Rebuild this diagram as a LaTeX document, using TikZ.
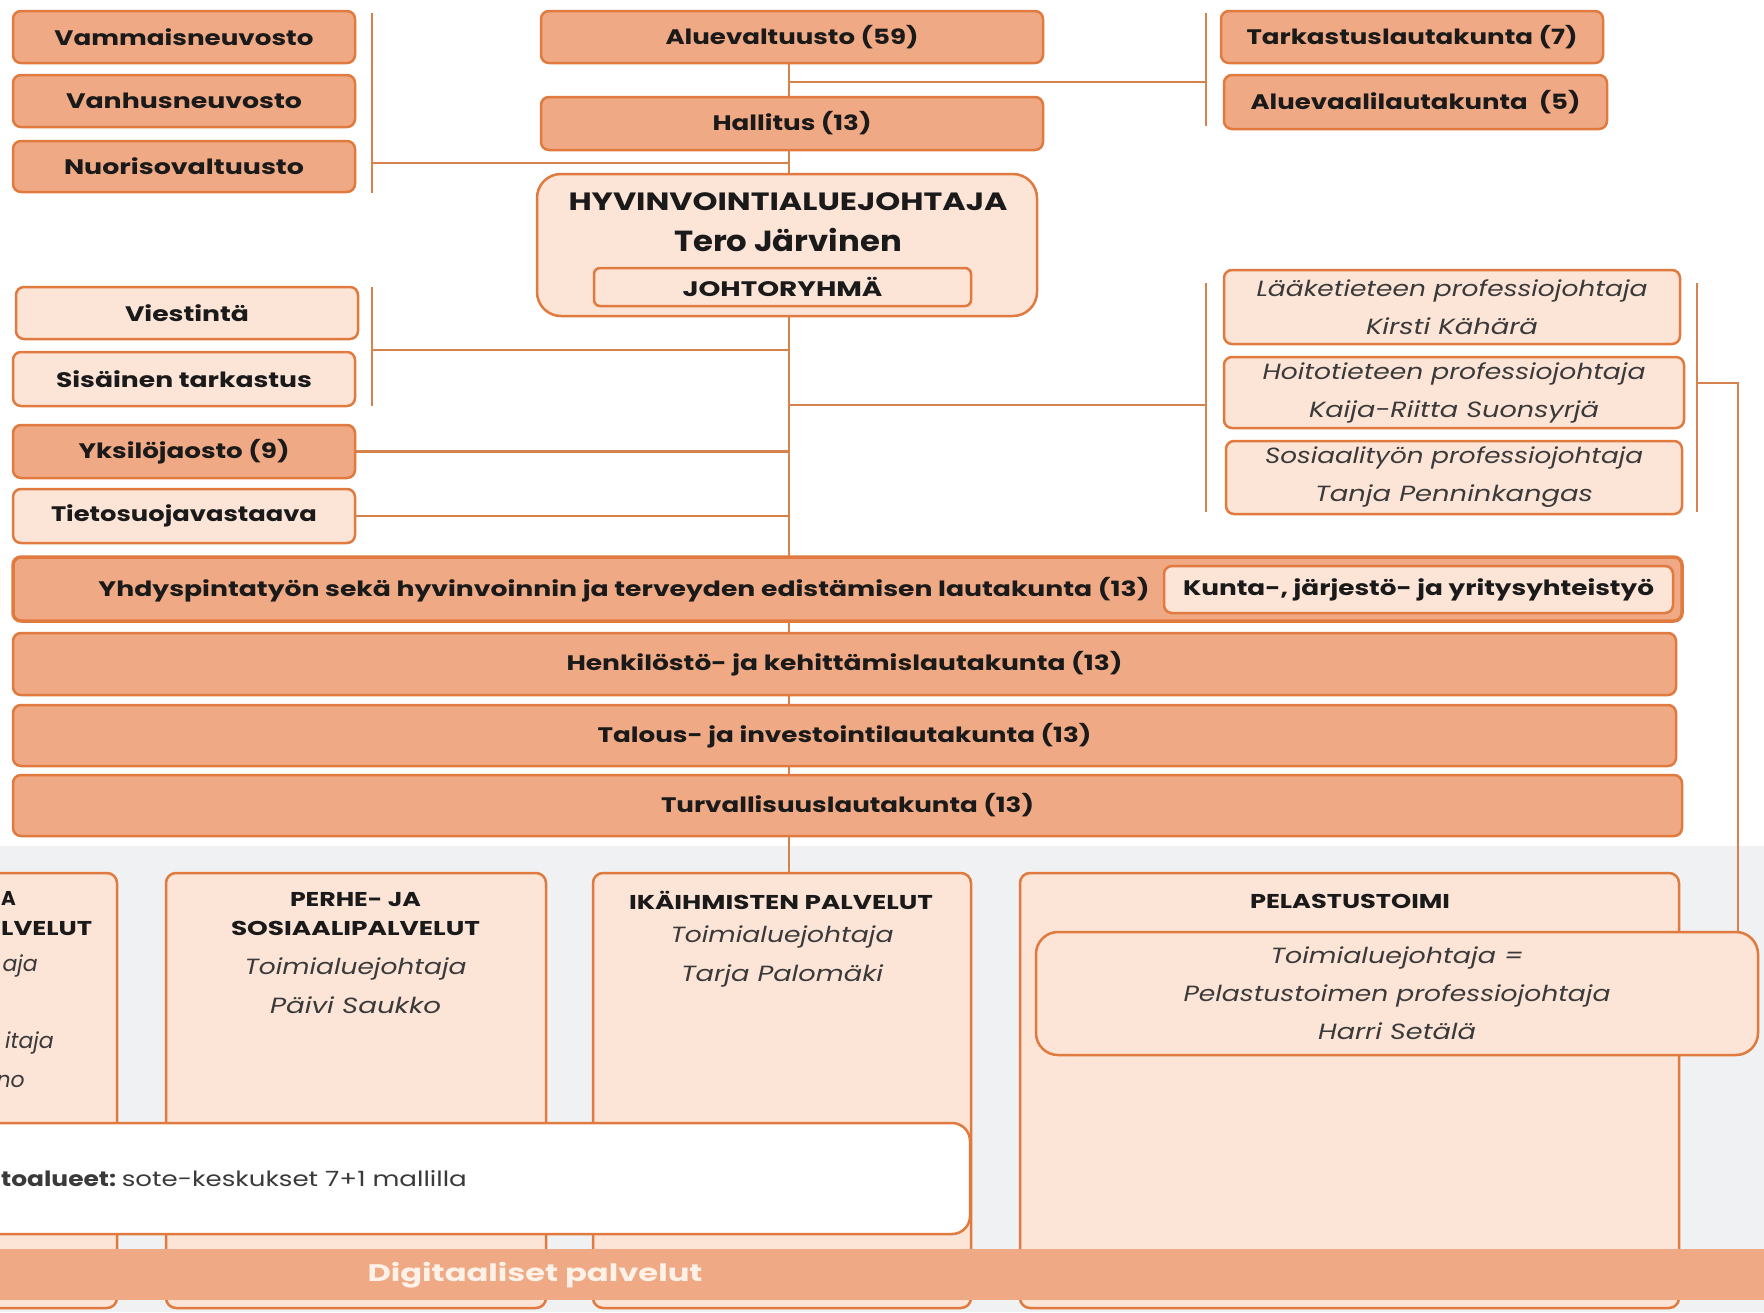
\documentclass[tikz,border=0pt]{standalone}
\usepackage{fontspec}
\setmainfont{Poppins}
\usepackage{graphicx}
\usetikzlibrary{backgrounds}
\definecolor{dfill}{HTML}{EFA984}
\definecolor{lfill}{HTML}{FCE4D7}
\definecolor{bord}{HTML}{E07A3E}
\definecolor{conn}{HTML}{D6824C}
\definecolor{gbg}{HTML}{F0F1F2}
\definecolor{txt}{HTML}{1A1A1A}
\definecolor{itx}{HTML}{3A3A3A}
\definecolor{digitxt}{HTML}{FDF1E8}
\newlength\fitlen
\newcommand\fw[2]{\settowidth\fitlen{#2}\pgfmathsetmacro\fitfac{#1/\fitlen}\scalebox{\fitfac}[1]{#2}}
\pgfdeclarelayer{bg}
\pgfsetlayers{bg,background,main}
\tikzset{
  bx/.style n args={4}{minimum width={(#3)-(#1)}, minimum height={(#4)-(#2)},
    at={({((#1)+(#3))/2},{((#2)+(#4))/2})}},
  obox/.style={rectangle, draw=bord, line width=2.5pt, rounded corners=8pt, inner sep=0pt, text=txt,
    font=\fontsize{21}{25}\selectfont\bfseries},
  dbox/.style={obox, fill=dfill},
  lbox/.style={obox, fill=lfill},
  itbox/.style={lbox, font=\fontsize{22}{38}\selectfont\itshape, text=itx, align=center},
  colbox/.style={lbox, rounded corners=10pt},
  wbox/.style={obox, fill=white, rounded corners=18pt},
  lbl/.style={inner sep=0pt, text=txt},
  headtxt/.style={lbl, font=\fontsize{20}{29}\selectfont\bfseries, align=center},
  ittxt/.style={lbl, text=itx, font=\fontsize{22}{39}\selectfont\itshape, align=center},
  conline/.style={draw=conn, line width=2.8pt},
}
\begin{document}
\begin{tikzpicture}[x=1pt,y=-1pt]
\useasboundingbox (0,0) rectangle (1764,1312);
\begin{pgfonlayer}{bg}
  \fill[white] (0,0) rectangle (1764,1312);
  \fill[gbg] (0,846) rectangle (1764,1312);
\end{pgfonlayer}
\clip (0,0) rectangle (1764,1312);

% top left
\node[dbox, bx={13}{11}{355}{63}] (vamma) {\fw{259}{Vammaisneuvosto}};
\node[dbox, bx={13}{75}{355}{127}] (vanhus) {\fw{236}{Vanhusneuvosto}};
\node[dbox, bx={13}{141}{355}{192}] (nuoriso) {\fw{240}{Nuorisovaltuusto}};
% top centre
\node[dbox, bx={541}{11}{1043}{63}] (alue) {\fw{253}{Aluevaltuusto (59)}};
\node[dbox, bx={541}{97}{1043}{150}] (hall) {\fw{159}{Hallitus (13)}};
% top right
\node[dbox, bx={1221}{11}{1603}{63}] (tark) {\fw{331}{Tarkastuslautakunta (7)}};
\node[dbox, bx={1224}{75}{1607}{129}] (vaali) {\fw{330}{Aluevaalilautakunta\ \ (5)}};
% director
\node[lbox, rounded corners=24pt, bx={537}{174}{1037}{316}] (joht) {};
\node[lbl, font=\fontsize{25}{30}\selectfont\bfseries] (hyv) at (788,202) {\fw{439}{HYVINVOINTIALUEJOHTAJA}};
\node[lbl, font=\fontsize{29}{34}\selectfont\bfseries] (tero) at (788,240) {\fw{228}{Tero Järvinen}};
\node[lbox, rounded corners=6pt, bx={594}{268}{971}{306}] (jr) {\fw{200}{JOHTORYHMÄ}};
% staff left
\node[lbox, bx={16}{287}{358}{339}] (viest) {\fw{124}{Viestintä}};
\node[lbox, bx={13}{352}{355}{406}] (sis) {\fw{256}{Sisäinen tarkastus}};
\node[dbox, bx={13}{425}{355}{478}] (yks) {\fw{211}{Yksilöjaosto (9)}};
\node[lbox, bx={13}{489}{355}{543}] (tieto) {\fw{266}{Tietosuojavastaava}};
% professional directors
\node[itbox, bx={1224}{270}{1680}{344}] (laake) {\fw{391}{Lääketieteen professiojohtaja}\\\fw{172}{Kirsti Kähärä}};
\node[itbox, bx={1224}{357}{1684}{428}] (hoito) {\fw{383}{Hoitotieteen professiojohtaja}\\\fw{290}{Kaija-Riitta Suonsyrjä}};
\node[itbox, bx={1226}{441}{1682}{514}] (sos) {\fw{378}{Sosiaalityön professiojohtaja}\\\fw{278}{Tanja Penninkangas}};
% boards
\node[dbox, line width=3.5pt, bx={13}{557}{1682}{621}] (yhd) {};
\node[lbl, font=\fontsize{21}{25}\selectfont\bfseries] (yhdt) at (624,590) {\fw{1051}{Yhdyspintatyön sekä hyvinvoinnin ja terveyden edistämisen lautakunta (13)}};
\node[lbox, bx={1164}{566}{1673}{613}] (kunta) {\fw{471}{Kunta-, järjestö- ja yritysyhteistyö}};
\node[dbox, bx={13}{633}{1676}{695}] (henk) {\fw{556}{Henkilöstö- ja kehittämislautakunta (13)}};
\node[dbox, bx={13}{705}{1676}{766}] (tal) {\fw{494}{Talous- ja investointilautakunta (13)}};
\node[dbox, bx={13}{775}{1682}{836}] (turva) {\fw{373}{Turvallisuuslautakunta (13)}};
% service columns
\node[colbox, bx={-300}{873}{117}{1308}] (col1) {};
\node[colbox, bx={166}{873}{546}{1308}] (perhe) {};
\node[colbox, bx={593}{873}{971}{1308}] (ika) {};
\node[colbox, bx={1020}{873}{1679}{1308}] (pel) {};
\node[headtxt, anchor=west] (f1) at (1,898) {A};
\node[headtxt, anchor=west] (f2) at (1,929) {\fw{91}{LVELUT}};
\node[ittxt, anchor=east] (f3) at (38,966) {aja};
\node[ittxt, anchor=east] (f4) at (54,1043) {itaja};
\node[ittxt, anchor=east] (f5) at (25,1081) {no};
\node[headtxt] (perheh) at (355.5,914.5) {\fw{131}{PERHE- JA}\\\fw{249}{SOSIAALIPALVELUT}};
\node[ittxt] (perhen) at (355.5,985.5) {\fw{222}{Toimialuejohtaja}\\\fw{171}{Päivi Saukko}};
\node[headtxt] (ikah) at (781,900) {\fw{304}{IKÄIHMISTEN PALVELUT}};
\node[ittxt] (ikan) at (782,956) {\fw{223}{Toimialuejohtaja}\\\fw{202}{Tarja Palomäki}};
\node[headtxt] (pelh) at (1350,901) {\fw{200}{PELASTUSTOIMI}};
\node[itbox, rounded corners=22pt, bx={1036}{932}{1758}{1055}] (pin) {\fw{253}{Toimialuejohtaja =}\\\fw{427}{Pelastustoimen professiojohtaja}\\\fw{158}{Harri Setälä}};
% areas
\node[wbox, bx={-60}{1123}{970}{1234}] (wb) {};
\node[lbl, anchor=west, text=itx, font=\fontsize{21}{25}\selectfont] (wbt) at (1,1179) {\fw{115}{\textbf{toalueet:}}\ \fw{345}{sote-keskukset 7+1 mallilla}};
\node[fill=dfill, inner sep=0pt, bx={-5}{1249}{1770}{1300}] (digi) {};
\node[lbl, text=digitxt, font=\fontsize{24}{28}\selectfont\bfseries] (digit) at (535,1275) {\fw{335}{Digitaaliset palvelut}};

% connectors
\begin{pgfonlayer}{background}
\coordinate (sp) at (789,0);
\draw[conline] (alue.south -| sp) -- (ika.north -| sp);
\coordinate (tl1) at (372,13); \coordinate (tl2) at (372,193); \coordinate (tlm) at (372,163);
\draw[conline] (tl1) -- (tl2);
\draw[conline] (tlm) -- (tlm -| sp);
\coordinate (tr1) at (1206,13); \coordinate (tr2) at (1206,126); \coordinate (trm) at (1206,82);
\draw[conline] (tr1) -- (tr2);
\draw[conline] (trm -| sp) -- (trm);
\coordinate (ml1) at (372,287); \coordinate (ml2) at (372,406); \coordinate (mlm) at (372,350);
\draw[conline] (ml1) -- (ml2);
\draw[conline] (mlm) -- (mlm -| sp);
\draw[conline] (yks.east) -- (yks.east -| sp);
\draw[conline] (tieto.east) -- (tieto.east -| sp);
\coordinate (mr1) at (1206,283); \coordinate (mr2) at (1206,512); \coordinate (mrm) at (1206,405);
\draw[conline] (mr1) -- (mr2);
\draw[conline] (mrm -| sp) -- (mrm);
\coordinate (fr1) at (1697,283); \coordinate (fr2) at (1697,512); \coordinate (frm) at (1697,383);
\coordinate (frc) at (1738,383);
\draw[conline] (fr1) -- (fr2);
\draw[conline] (frm) -- (frc) -- (frc |- pin.north);
\end{pgfonlayer}
\end{tikzpicture}
\end{document}
